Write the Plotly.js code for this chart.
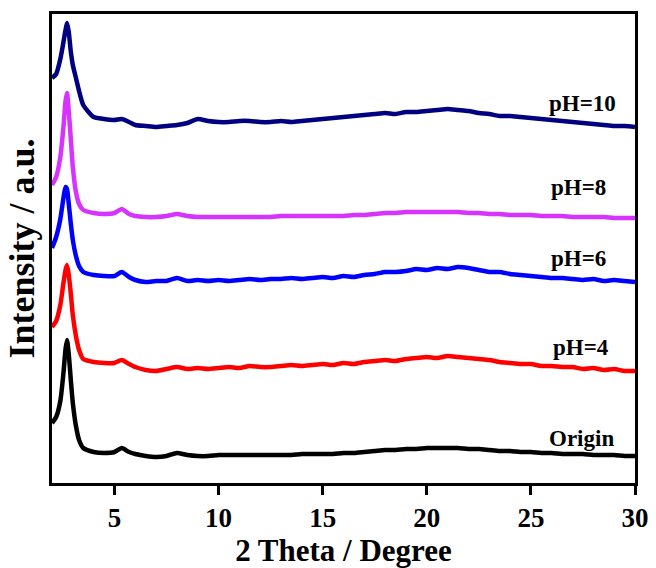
<!DOCTYPE html>
<html>
<head>
<meta charset="utf-8">
<script src="https://cdn.plot.ly/plotly-3.0.1.min.js"></script>
<style>html,body{margin:0;padding:0;background:#fff;}#chart{width:656px;height:568px;}</style>
</head>
<body>
<div id="chart"></div>
<script>
// 2 Theta (degree)
var twoTheta = [2.0, 2.2, 2.4, 2.55, 2.65, 2.72, 2.8, 2.9, 3.0, 3.15, 3.3, 3.5, 4.0, 4.5, 5.0, 5.35, 5.7, 6.0,
  6.5, 7, 7.5, 8, 8.5, 9, 9.5, 10,
  10.5, 11, 11.5, 12, 12.5, 13, 13.5, 14,
  14.5, 15, 15.5, 16, 16.5, 17, 17.5, 18,
  18.5, 19, 19.5, 20, 20.5, 21, 21.5, 22,
  22.5, 23, 23.5, 24, 24.5, 25, 25.5, 26,
  26.5, 27, 27.5, 28, 28.5, 29, 29.5, 30];

// Stacked intensities (a.u., offset included)
var origin = [60, 66, 82, 110, 134, 143, 130, 104, 80, 57, 43, 35, 31, 30, 31, 35, 31, 29,
  27, 26, 27, 30, 28, 27, 27, 28,
  28, 28, 28, 28, 28, 28, 28, 29,
  29, 29, 29, 30, 30, 31, 32, 33,
  33, 34, 34, 35, 35, 35, 35, 34,
  34, 33, 32, 32, 31, 31, 30, 30,
  29, 29, 29, 28, 28, 28, 27, 27];

var pH4 = [156, 162, 178, 200, 213, 218, 209, 190, 168, 147, 133, 124, 121, 120, 120, 123, 119, 116,
  113, 112, 114, 116, 114, 115, 114, 115,
  116, 115, 117, 116, 116, 117, 118, 117,
  118, 119, 118, 120, 119, 121, 122, 123,
  122, 124, 125, 126, 125, 127, 126, 125,
  124, 123, 121, 120, 119, 119, 117, 117,
  116, 116, 114, 115, 113, 114, 112, 112];

var pH6 = [235, 246, 264, 285, 296, 294, 280, 260, 243, 227, 217, 211, 208, 207, 207, 211, 206, 203,
  201, 202, 202, 205, 202, 203, 202, 203,
  202, 203, 204, 203, 204, 204, 205, 204,
  205, 206, 205, 207, 206, 208, 209, 211,
  211, 212, 214, 213, 215, 214, 216, 215,
  213, 211, 211, 209, 208, 207, 206, 205,
  205, 204, 203, 204, 202, 203, 202, 201];

var pH8 = [298, 306, 326, 356, 382, 390, 373, 345, 316, 291, 279, 273, 270, 269, 270, 274, 269, 267,
  266, 266, 267, 269, 267, 266, 266, 266,
  266, 266, 266, 266, 266, 267, 267, 267,
  267, 267, 267, 267, 268, 268, 269, 270,
  270, 271, 271, 271, 271, 271, 271, 270,
  270, 269, 269, 268, 268, 268, 267, 267,
  267, 266, 266, 266, 266, 265, 265, 265];

var pH10 = [405, 409, 424, 441, 453, 460, 452, 432, 418, 405, 392, 378, 366, 364, 363, 364, 361, 358,
  357, 356, 357, 358, 360, 364, 362, 361,
  361, 362, 362, 361, 361, 362, 361, 362,
  363, 364, 365, 366, 367, 368, 369, 370,
  369, 371, 371, 372, 373, 374, 373, 372,
  370, 369, 367, 367, 366, 365, 364, 363,
  362, 361, 360, 359, 358, 357, 357, 356];

var seriesNames = ['Origin', 'pH=4', 'pH=6', 'pH=8', 'pH=10'];
var seriesData = [origin, pH4, pH6, pH8, pH10];
var seriesColors = ['#000000', '#ff0000', '#0000ff', '#d633ff', '#000080'];
var labelX = [27.45, 27.4, 27.3, 27.3, 27.5];
var labelY = [45, 136, 225, 296, 380];
var xTicks = [5, 10, 15, 20, 25, 30];

var font = 'Liberation Serif, Times New Roman, serif';

var traces = seriesData.map(function (ys, i) {
  return {
    x: twoTheta, y: ys, type: 'scatter', mode: 'lines', name: seriesNames[i],
    line: {color: seriesColors[i], width: 4.5, shape: 'spline', smoothing: 0.6},
    hoverinfo: 'skip'
  };
});

var annotations = seriesNames.map(function (t, i) {
  return {
    x: labelX[i], y: labelY[i], xref: 'x', yref: 'y', text: '<b>' + t + '</b>',
    showarrow: false, xanchor: 'center', yanchor: 'middle',
    font: {family: font, size: 23, color: '#000'}
  };
});

var layout = {
  width: 656, height: 568,
  margin: {l: 52, r: 21, t: 14, b: 85},
  paper_bgcolor: '#fff', plot_bgcolor: '#fff',
  showlegend: false,
  xaxis: {
    range: [2, 30], tickvals: xTicks, ticktext: xTicks.map(function (v) { return '<b>' + v + '</b>'; }),
    ticks: 'outside', ticklen: 9, tickwidth: 3, tickcolor: '#000',
    showline: true, linewidth: 3, linecolor: '#000', mirror: true,
    showgrid: false, zeroline: false,
    tickfont: {family: font, size: 27, color: '#000'},
    title: {text: '<b>2 Theta / Degree</b>', font: {family: font, size: 31, color: '#000'}, standoff: 3}
  },
  yaxis: {
    range: [0, 469], showticklabels: false, ticks: '',
    showline: true, linewidth: 3, linecolor: '#000', mirror: true,
    showgrid: false, zeroline: false,
    title: {text: '<b>Intensity / a.u.</b>', font: {family: font, size: 36, color: '#000'}, standoff: 4}
  },
  annotations: annotations
};

Plotly.newPlot('chart', traces, layout, {displayModeBar: false, staticPlot: true});
</script>
</body>
</html>
